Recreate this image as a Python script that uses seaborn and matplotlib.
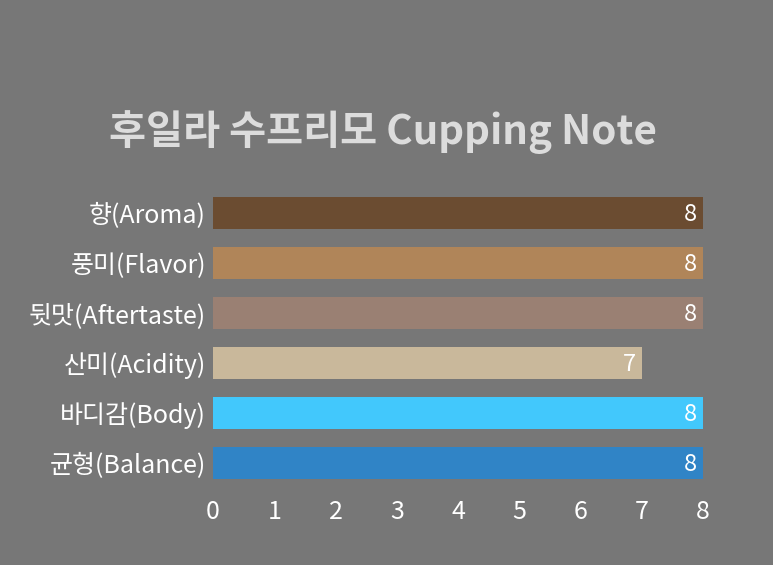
import pandas as pd
import seaborn as sns
import matplotlib.pyplot as plt

sns.set_style('white')
plt.rcParams['font.family'] = ['Noto Sans CJK KR', 'DejaVu Sans']

categories = ['향(Aroma)', '풍미(Flavor)', '뒷맛(Aftertaste)', '산미(Acidity)', '바디감(Body)', '균형(Balance)']
scores = [8, 8, 8, 7, 8, 8]
colors = ['#6b4c31', '#b08559', '#9a8073', '#c9b89b', '#42c8fc', '#3084c6']

data = pd.DataFrame({'category': categories, 'score': scores})

bg = '#777777'
fig = plt.figure(figsize=(7.73, 5.65), dpi=100, facecolor=bg)
ax = fig.add_axes([213/773, 1 - 488/565, 490/773, 300/565])
ax.set_facecolor(bg)

sns.barplot(data=data, x='score', y='category', hue='category', palette=colors,
            legend=False, width=0.64, saturation=1, linewidth=0, ax=ax)

for i, v in enumerate(scores):
    ax.text(v - 0.1, i + 0.03, str(v), ha='right', va='center', color='white', fontsize=17)

ax.set_xlim(0, 8)
ax.set_ylim(5.5, -0.5)
ax.set_xticks(range(0, 9))
ax.tick_params(axis='both', length=0, colors='white', labelsize=18)
ax.tick_params(axis='x', pad=8)
ax.tick_params(axis='y', pad=5)
ax.set_xlabel('')
ax.set_ylabel('')
sns.despine(ax=ax, left=True, bottom=True)

fig.text(383/773, 1 - 132/565, '후일라 수프리모 Cupping Note', ha='center', va='center',
         fontsize=29, fontweight='bold', color='#dcdcdc')

plt.savefig('out.png', dpi=100, facecolor=bg)
